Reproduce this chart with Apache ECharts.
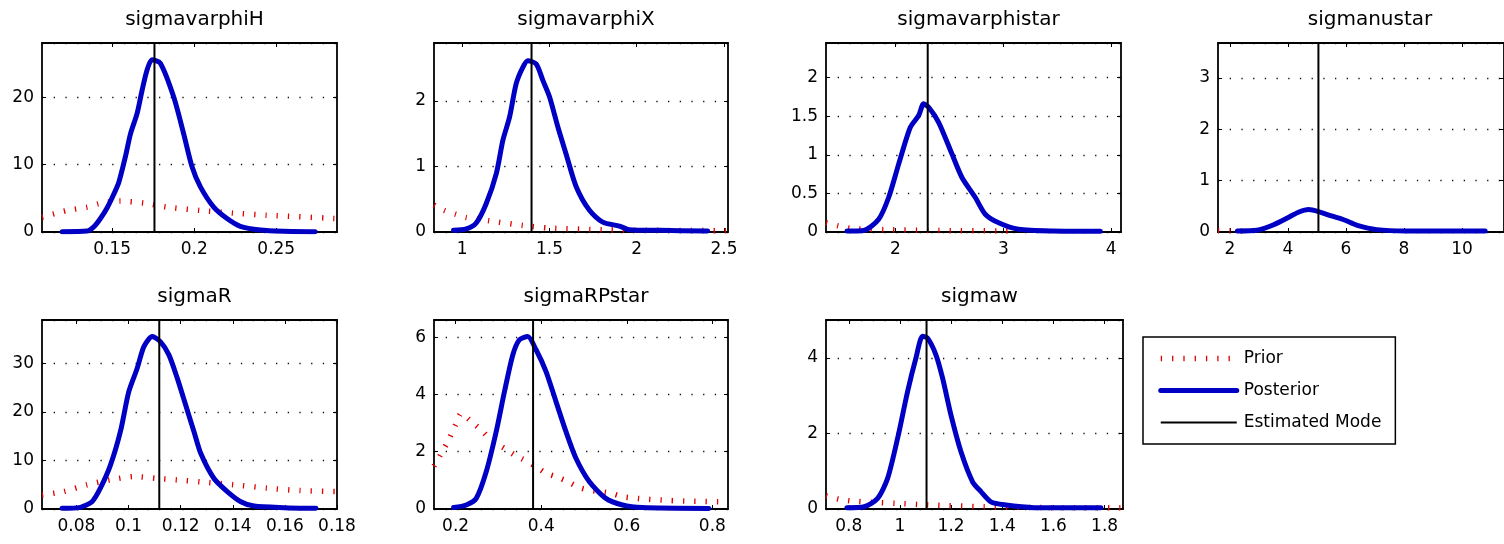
<!DOCTYPE html>
<html>
<head>
<meta charset="utf-8">
<script src="https://cdn.jsdelivr.net/npm/echarts/dist/echarts.min.js"></script>
<style>
  html, body { margin: 0; padding: 0; background: #fff; }
  #chart { width: 1504px; height: 544px; }
</style>
</head>
<body>
<div id="chart"></div>
<script>
// parameter names, estimated modes, axis ranges and ticks
const names = ['sigmavarphiH', 'sigmavarphiX', 'sigmavarphistar', 'sigmanustar', 'sigmaR', 'sigmaRPstar', 'sigmaw'];
const modes = [0.1758, 1.397, 2.30, 5.05, 0.1118, 0.381, 1.104];
const xMin = [0.1073, 0.838, 1.358, 1.587, 0.0668, 0.1495, 0.711];
const xMax = [0.287, 2.523, 4.09, 11.45, 0.18, 0.8365, 1.872];
const xTicks = [
  [0.15, 0.2, 0.25],
  [1, 1.5, 2, 2.5],
  [2, 3, 4],
  [2, 4, 6, 8, 10],
  [0.08, 0.1, 0.12, 0.14, 0.16, 0.18],
  [0.2, 0.4, 0.6, 0.8],
  [0.8, 1, 1.2, 1.4, 1.6, 1.8]
];
const yMax = [28.1, 2.88, 2.45, 3.68, 39.0, 6.6, 5.0];
const yStep = [10, 1, 0.5, 1, 10, 2, 2];

// sigmavarphiH
const postX_H = [0.1196, 0.1348, 0.139, 0.1429, 0.147, 0.151, 0.1541, 0.1581, 0.1612, 0.1652, 0.1683, 0.1713, 0.1743, 0.1794, 0.1875, 0.1936, 0.1987, 0.2038, 0.2119, 0.22, 0.2281, 0.2403, 0.2545, 0.2737];
const postY_H = [0.05, 0.15, 0.8, 2.0, 3.6, 5.6, 7.4, 11.2, 14.6, 17.6, 21.1, 24.1, 25.6, 25.1, 20.1, 14.6, 9.7, 6.7, 3.7, 2.0, 0.85, 0.3, 0.12, 0.05];
const priorX_H = [0.1073, 0.1226, 0.135, 0.142, 0.155, 0.1693, 0.1835, 0.2038, 0.224, 0.244, 0.2868];
const priorY_H = [2.2, 3.2, 3.7, 4.2, 4.6, 4.3, 3.7, 3.2, 2.8, 2.5, 2.0];

// sigmavarphiX
const postX_X = [0.95, 1.023, 1.08, 1.137, 1.195, 1.233, 1.271, 1.309, 1.347, 1.376, 1.424, 1.462, 1.5, 1.548, 1.595, 1.653, 1.729, 1.805, 1.901, 1.958, 2.13, 2.406];
const postY_X = [0.025, 0.046, 0.137, 0.43, 0.89, 1.40, 1.75, 2.26, 2.51, 2.61, 2.56, 2.31, 2.06, 1.60, 1.19, 0.69, 0.33, 0.15, 0.09, 0.035, 0.025, 0.015];
const priorX_X = [0.838, 0.897, 0.964, 1.023, 1.156, 1.347, 1.5, 1.805, 2.13, 2.523];
const priorY_X = [0.41, 0.33, 0.27, 0.22, 0.17, 0.10, 0.06, 0.035, 0.025, 0.02];

// sigmavarphistar
const postX_S = [1.553, 1.707, 1.846, 1.938, 2.031, 2.139, 2.216, 2.262, 2.309, 2.401, 2.525, 2.617, 2.741, 2.833, 2.957, 3.142, 3.451, 3.898];
const postY_S = [0.013, 0.02, 0.165, 0.447, 0.88, 1.357, 1.509, 1.661, 1.617, 1.422, 1.01, 0.707, 0.447, 0.23, 0.12, 0.035, 0.013, 0.01];
const priorX_S = [1.358, 1.475, 1.6, 1.907, 2.31, 3.05];
const priorY_S = [0.12, 0.078, 0.045, 0.03, 0.02, 0.013];

// sigmanustar
const postX_N = [2.257, 2.927, 3.486, 4.045, 4.38, 4.715, 5.05, 5.497, 5.944, 6.391, 7.061, 8.067, 10.8];
const postY_N = [0.02, 0.033, 0.137, 0.293, 0.39, 0.436, 0.397, 0.312, 0.234, 0.13, 0.046, 0.02, 0.02];
const priorX_N = [1.587, 2.0, 2.6];
const priorY_N = [0.03, 0.022, 0.016];

// sigmaR
const postX_R = [0.0745, 0.0815, 0.086, 0.0892, 0.0931, 0.0969, 0.1001, 0.1033, 0.1059, 0.1091, 0.1123, 0.1155, 0.1187, 0.1219, 0.1251, 0.1277, 0.1328, 0.1379, 0.1431, 0.1482, 0.1597, 0.1719];
const postY_R = [0.14, 0.34, 1.5, 4.3, 9.1, 16.0, 24.2, 29.0, 33.5, 35.6, 34.5, 31.8, 27.0, 21.5, 16.0, 11.5, 6.3, 3.6, 1.5, 0.6, 0.28, 0.14];
const priorX_R = [0.0668, 0.0751, 0.0841, 0.093, 0.1022, 0.1112, 0.1187, 0.1277, 0.1405, 0.1533, 0.166, 0.18];
const priorY_R = [2.9, 3.6, 5.0, 6.0, 6.7, 6.3, 6.0, 5.6, 5.0, 4.3, 3.8, 3.6];

// sigmaRPstar
const postX_P = [0.1953, 0.2249, 0.2482, 0.2715, 0.2948, 0.3142, 0.3336, 0.3491, 0.3685, 0.388, 0.4113, 0.4346, 0.4579, 0.4812, 0.5122, 0.5511, 0.5899, 0.6365, 0.7918];
const postY_P = [0.05, 0.14, 0.37, 1.30, 2.70, 4.10, 5.38, 5.91, 6.02, 5.56, 4.80, 3.75, 2.70, 1.77, 0.96, 0.37, 0.14, 0.05, 0.02];
const priorX_P = [0.1495, 0.1783, 0.2016, 0.2132, 0.2326, 0.2598, 0.2854, 0.3142, 0.3375, 0.3647, 0.388, 0.4113, 0.4346, 0.4617, 0.4889, 0.5122, 0.5627, 0.5899, 0.6404, 0.6948, 0.7491, 0.8365];
const priorY_P = [1.50, 2.26, 2.99, 3.34, 3.11, 2.76, 2.38, 2.12, 1.89, 1.68, 1.48, 1.25, 1.13, 0.96, 0.75, 0.66, 0.55, 0.43, 0.35, 0.30, 0.27, 0.25];

// sigmaw
const postX_W = [0.7928, 0.8606, 0.9127, 0.9518, 0.9909, 1.03, 1.0625, 1.0886, 1.1081, 1.1407, 1.1668, 1.1993, 1.2384, 1.284, 1.3166, 1.3557, 1.4078, 1.5251, 1.7857];
const postY_W = [0.035, 0.06, 0.28, 0.81, 1.87, 3.11, 3.99, 4.57, 4.52, 4.08, 3.46, 2.49, 1.52, 0.72, 0.46, 0.19, 0.11, 0.035, 0.03];
const priorX_W = [0.711, 0.761, 0.813, 0.891, 0.982, 1.108, 1.33, 1.59, 1.872];
const priorY_W = [0.35, 0.26, 0.21, 0.18, 0.15, 0.11, 0.06, 0.035, 0.03];

const posts = [[postX_H, postY_H], [postX_X, postY_X], [postX_S, postY_S], [postX_N, postY_N], [postX_R, postY_R], [postX_P, postY_P], [postX_W, postY_W]];
const priors = [[priorX_H, priorY_H], [priorX_X, priorY_X], [priorX_S, priorY_S], [priorX_N, priorY_N], [priorX_R, priorY_R], [priorX_P, priorY_P], [priorX_W, priorY_W]];

const zip = (xs, ys) => xs.map((x, k) => [x, ys[k]]);

// panel boxes: left, top, width (height is shared)
const boxes = [[42, 43, 295], [434, 43, 294], [826, 43, 295], [1218, 43, 294], [42, 320, 295], [434, 320, 294], [826, 320, 297]];
const boxH = 189;
const font = 'DejaVu Sans';

const grid = [], xAxis = [], yAxis = [], series = [], title = [];

boxes.forEach((b, i) => {
  grid.push({ left: b[0], top: b[1], width: b[2], height: boxH });
  title.push({
    text: names[i], left: b[0] + b[2] / 2, top: b[1] - 38, textAlign: 'center',
    textStyle: { fontFamily: font, fontSize: 20, fontWeight: 'normal', color: '#000' }
  });
  const line = { onZero: false, lineStyle: { color: '#000', width: 1.8 } };
  const tick = { inside: true, length: 4, lineStyle: { color: '#000', width: 1 } };
  xAxis.push({
    type: 'value', gridIndex: i, min: xMin[i], max: xMax[i],
    axisLine: line,
    axisTick: Object.assign({ customValues: xTicks[i] }, tick),
    axisLabel: { customValues: xTicks[i], color: '#000', fontSize: 17, fontFamily: font, margin: 9 },
    splitLine: { show: false }
  });
  xAxis.push({
    type: 'value', gridIndex: i, position: 'top', min: xMin[i], max: xMax[i],
    axisLine: line,
    axisTick: Object.assign({ customValues: xTicks[i] }, tick),
    axisLabel: { show: false },
    splitLine: { show: false }
  });
  yAxis.push({
    type: 'value', gridIndex: i, min: 0, max: yMax[i], interval: yStep[i],
    axisLine: line, axisTick: tick,
    axisLabel: { color: '#000', fontSize: 17, fontFamily: font, margin: 8, showMaxLabel: false },
    splitLine: { show: true, lineStyle: { color: '#111', width: 1.3, type: [1.3, 10.4] } }
  });
  yAxis.push({
    type: 'value', gridIndex: i, position: 'right', min: 0, max: yMax[i], interval: yStep[i],
    axisLine: line, axisTick: tick,
    axisLabel: { show: false },
    splitLine: { show: false }
  });

  series.push({
    name: 'Prior', type: 'line', xAxisIndex: 2 * i, yAxisIndex: 2 * i,
    data: zip(priors[i][0], priors[i][1]),
    symbol: 'none', smooth: 0.25, silent: true, z: 2,
    itemStyle: { color: '#e00000' },
    lineStyle: { color: '#e00000', width: 5.5, type: [1.3, 10], cap: 'butt' }
  });
  series.push({
    name: 'Posterior', type: 'line', xAxisIndex: 2 * i, yAxisIndex: 2 * i,
    data: zip(posts[i][0], posts[i][1]),
    symbol: 'none', smooth: 0.25, silent: true, z: 3,
    itemStyle: { color: '#0000c4' },
    lineStyle: { color: '#0000c4', width: 5, cap: 'round', join: 'round' }
  });
  series.push({
    name: 'Estimated Mode', type: 'line', xAxisIndex: 2 * i, yAxisIndex: 2 * i,
    data: [[modes[i], 0], [modes[i], yMax[i]]],
    symbol: 'none', silent: true, z: 4,
    itemStyle: { color: '#000' },
    lineStyle: { color: '#000', width: 2 }
  });
});

const chart = echarts.init(document.getElementById('chart'));
chart.setOption({
  animation: false,
  backgroundColor: '#fff',
  title: title,
  grid: grid,
  xAxis: xAxis,
  yAxis: yAxis,
  legend: {
    data: ['Prior', 'Posterior', 'Estimated Mode'],
    orient: 'vertical', left: 1143, top: 337,
    itemWidth: 76, itemHeight: 14, itemGap: 12,
    padding: [11.5, 14, 11.5, 15],
    borderColor: '#000', borderWidth: 1.5, backgroundColor: '#fff',
    selectedMode: false,
    itemStyle: { opacity: 0 },
    lineStyle: { width: 'inherit' },
    textStyle: { fontSize: 17, fontFamily: font, color: '#000', lineHeight: 20, padding: [0, 0, 0, 2] }
  },
  series: series
});
</script>
</body>
</html>
